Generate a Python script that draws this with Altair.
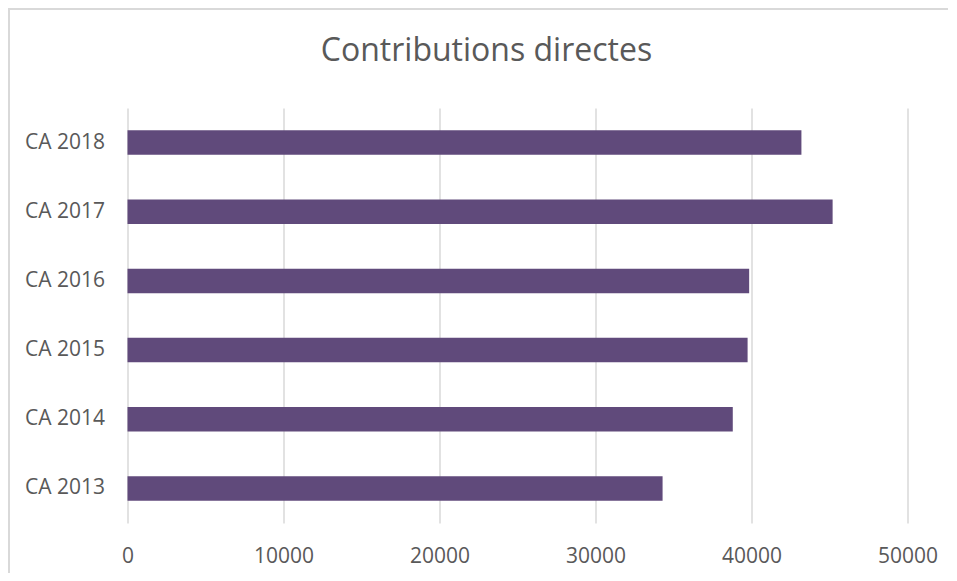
import altair as alt
import pandas as pd

categories = ["CA 2018", "CA 2017", "CA 2016", "CA 2015", "CA 2014", "CA 2013"]
values = [43200, 45200, 39850, 39750, 38800, 34300]
x_ticks = [0, 10000, 20000, 30000, 40000, 50000]
title_text = "Contributions directes"

df = pd.DataFrame({"cat": categories, "val": values})

FONT = "Open Sans"
TXT = "#595959"
BORDER = "#d9d9d9"

bars = alt.Chart(df).mark_bar(color="#604A7B").encode(
    x=alt.X("val:Q",
            scale=alt.Scale(domain=[0, 50000], nice=False),
            axis=alt.Axis(values=x_ticks, title=None, grid=True, gridColor=BORDER,
                          gridWidth=1.5, domain=False, ticks=False, labelPadding=22,
                          labelFontSize=21, labelColor=TXT, labelFont=FONT,
                          format="d", labelFlush=False)),
    y=alt.Y("cat:N", sort=categories,
            scale=alt.Scale(paddingInner=0.645, paddingOuter=0.3225),
            axis=alt.Axis(title=None, domain=False, ticks=False, labelPadding=23,
                          labelFontSize=21, labelColor=TXT, labelFont=FONT)),
)

frame_df = pd.DataFrame({"k": [0]})
left_border = alt.Chart(frame_df).mark_rect(color=BORDER).encode(
    x=alt.value(-119.5), x2=alt.value(-117.5), y=alt.value(-100), y2=alt.value(470)
)
top_border = alt.Chart(frame_df).mark_rect(color=BORDER).encode(
    x=alt.value(-119.5), x2=alt.value(830), y=alt.value(-100), y2=alt.value(-98)
)
title = alt.Chart(pd.DataFrame({"t": [title_text]})).mark_text(
    font=FONT, fontSize=32, color=TXT, align="center", baseline="alphabetic"
).encode(text="t:N", x=alt.value(359), y=alt.value(-47))

chart = alt.layer(left_border, top_border, title, bars).properties(
    width=780,
    height=415,
    padding={"left": 119.5, "top": 100, "right": 40, "bottom": 50},
    autosize=alt.AutoSizeParams(type="none"),
    background="white",
).configure_view(stroke="transparent", strokeWidth=0)

chart.save("out.html", embed_options={"renderer": "svg", "actions": False})
